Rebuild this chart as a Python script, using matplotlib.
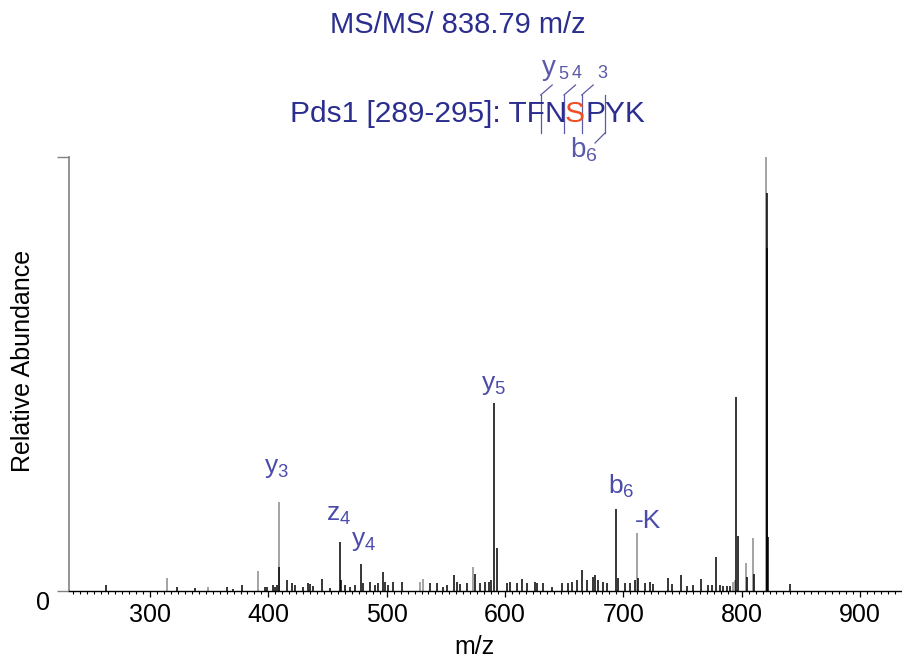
import numpy as np
import matplotlib
matplotlib.use("Agg")
import matplotlib.pyplot as plt
import matplotlib.ticker as mtick
from matplotlib.lines import Line2D

plt.rcParams["font.family"] = ["Liberation Sans", "DejaVu Sans"]
plt.rcParams["mathtext.fontset"] = "custom"
plt.rcParams["mathtext.rm"] = "Liberation Sans"
plt.rcParams["mathtext.it"] = "Liberation Sans:italic"

# -----------------------------------------------------------
# Spectrum data (m/z, relative abundance %)
# -----------------------------------------------------------

black_mz = [263.1, 322.5, 338.0, 364.8, 370.4, 377.5, 397.2, 398.6, 404.2, 405.6,
            407.1, 409.3, 415.5, 419.7, 422.5, 429.6, 433.8, 435.2, 438.0, 445.6,
            452.1, 460.3, 461.4, 464.8, 469.0, 473.2, 478.3, 480.3, 485.9, 490.1,
            492.9, 496.6, 498.6, 501.4, 505.6, 512.7, 536.6, 542.3, 547.9, 550.7,
            556.9, 559.2, 562.0, 567.6, 574.7, 578.9, 583.1, 586.5, 587.9, 591.0,
            593.0, 601.4, 604.2, 609.9, 614.1, 618.3, 625.4, 626.8, 631.9, 639.5,
            647.9, 653.5, 656.4, 660.6, 665.3, 669.0, 674.6, 676.1, 678.9, 683.1,
            686.0, 693.8, 695.8, 701.4, 705.6, 709.9, 712.7, 718.3, 722.5, 725.3,
            738.0, 740.9, 748.9, 753.6, 759.2, 765.6, 771.8, 774.7, 778.3, 781.7,
            784.5, 787.3, 790.1, 795.5, 796.5, 804.3, 810.3, 821.3, 821.8, 822.6,
            840.9]
black_int = [1.4, 1.0, 0.8, 1.0, 0.5, 1.3, 1.0, 1.0, 1.3, 1.0,
             1.4, 5.6, 2.5, 1.8, 1.4, 1.0, 1.8, 1.6, 1.2, 2.8,
             0.6, 11.2, 2.5, 1.4, 1.0, 1.4, 6.3, 1.8, 2.1, 1.4,
             1.8, 4.3, 2.1, 1.4, 2.1, 2.1, 1.8, 1.8, 1.0, 1.4,
             3.7, 2.1, 1.6, 1.8, 4.0, 1.8, 2.1, 2.1, 2.5, 43.4,
             10.0, 1.8, 2.1, 1.8, 2.8, 1.8, 2.1, 1.8, 1.8, 1.0,
             1.8, 1.8, 2.1, 2.5, 4.8, 2.5, 3.3, 3.7, 2.5, 2.1,
             1.8, 18.8, 2.9, 1.8, 1.8, 2.5, 2.9, 1.8, 2.1, 1.5,
             2.9, 1.7, 3.7, 1.1, 1.3, 2.8, 1.3, 1.3, 7.9, 1.3,
             1.1, 1.1, 1.1, 44.8, 12.7, 3.3, 4.0, 91.6, 79.0, 12.5,
             1.6]

gray_mz = [314.6, 349.3, 391.0, 408.9, 528.2, 531.0, 572.7, 711.3, 792.9, 794.4,
           803.7, 809.6, 820.9]
gray_int = [2.9, 1.0, 4.5, 20.4, 2.1, 2.7, 5.6, 13.4, 2.1, 2.5,
            6.5, 12.2, 100.0]

# Peak labels: (main text, subscript), label anchor m/z, label bottom %
label_text = [("y", "3"), ("z", "4"), ("y", "4"), ("y", "5"), ("b", "6"), ("-K", "")]
label_mz = [406.5, 459.0, 480.8, 589.9, 698.0, 720.9]
label_y = [25.6, 14.8, 8.7, 44.8, 21.0, 13.3]

x_ticks = [300, 400, 500, 600, 700, 800, 900]

# -----------------------------------------------------------
# Figure
# -----------------------------------------------------------

W, H = 902, 665
fig = plt.figure(figsize=(W / 100, H / 100), dpi=100)
ax = fig.add_axes([69 / W, 74 / H, 833 / W, 434 / H])

label_color = "#4b4bab"
title_color = "#2b2e8f"
frag_color = "#5a5aa8"


def fx(px):
    return px / W


def fy(py):
    return 1 - py / H


ax.vlines(gray_mz, 0, gray_int, color="#8a8a8a", linewidth=1.1)
ax.vlines(black_mz, 0, black_int, color="black", linewidth=1.1)

ax.set_xlim(231.5, 935.5)
ax.set_ylim(0, 100)

for side in ["top", "right"]:
    ax.spines[side].set_visible(False)
ax.spines["left"].set_color("#808080")
ax.spines["left"].set_linewidth(1.2)
ax.spines["bottom"].set_color("black")
ax.spines["bottom"].set_linewidth(1.0)

ax.set_xticks(x_ticks)
ax.set_xticklabels([str(t) for t in x_ticks])
ax.xaxis.set_minor_locator(mtick.MultipleLocator(100 / 17))
ax.tick_params(axis="x", which="major", length=4.5, width=0.9, labelsize=18, pad=4.5)
ax.tick_params(axis="x", which="minor", length=2.2, width=0.8)

ax.set_yticks([0, 100])
ax.set_yticklabels(["", ""])
ax.tick_params(axis="y", which="major", length=8.5, width=1.0, color="#808080")
ax.text(-0.023, 0, "0", transform=ax.get_yaxis_transform(), ha="right", va="top",
        fontsize=18)

fig.text(fx(474), fy(647), "m/z", ha="center", va="center", fontsize=18)
fig.text(fx(23), fy(361), "Relative Abundance", ha="center", va="center",
         rotation=90, fontsize=18)

for (main, sub), lx, ly in zip(label_text, label_mz, label_y):
    s = main if sub == "" else main + r"$_\mathregular{" + sub + "}$"
    ax.text(lx, ly, s, ha="center", va="bottom", fontsize=19, color=label_color)

# -----------------------------------------------------------
# Title and peptide fragment map
# -----------------------------------------------------------

fig.text(fx(458), fy(33), "MS/MS/ 838.79 m/z", ha="center", va="baseline",
         fontsize=21, color=title_color)

fig.text(fx(566), fy(122), "Pds1 [289-295]: TFN", ha="right", va="baseline",
         fontsize=21.5, color=title_color)
fig.text(fx(575), fy(122), "S", ha="center", va="baseline", fontsize=21.5, color="#f04e23")
fig.text(fx(585), fy(122), "PYK", ha="left", va="baseline", fontsize=21.5, color=title_color)

bar_x = [540.7, 564.0, 581.7, 605.0]
for i, bx in enumerate(bar_x):
    fig.add_artist(Line2D([fx(bx), fx(bx)], [fy(95), fy(133)], color=frag_color,
                          linewidth=0.9, transform=fig.transFigure))
    if i < 3:
        fig.add_artist(Line2D([fx(bx), fx(bx + 11.5)], [fy(95), fy(85)], color=frag_color,
                              linewidth=0.9, transform=fig.transFigure))
    else:
        fig.add_artist(Line2D([fx(bx), fx(bx - 10)], [fy(133), fy(143)], color=frag_color,
                              linewidth=0.9, transform=fig.transFigure))

fig.text(fx(542), fy(75), "y", ha="left", va="baseline", fontsize=20, color=frag_color)
fig.text(fx(558), fy(79), "5", ha="left", va="baseline", fontsize=13, color=frag_color)
fig.text(fx(572), fy(78), "4", ha="left", va="baseline", fontsize=13, color=frag_color)
fig.text(fx(597), fy(78), "3", ha="left", va="baseline", fontsize=13, color=frag_color)
fig.text(fx(570), fy(157), r"b$_\mathregular{6}$", ha="left", va="baseline",
         fontsize=20, color=frag_color)

fig.savefig("out.png", dpi=100)
